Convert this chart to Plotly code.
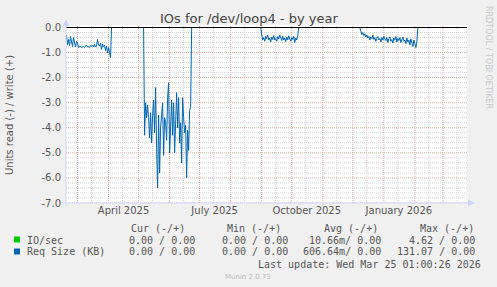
import plotly.graph_objects as go
import pandas as pd

# ---------------- data ----------------
start_day = "2025-02-18"
n_days = 401

# Req Size (KB), read side (drawn negative), daily values per active period
req_seg1_start = "2025-02-18"
req_seg1 = [-0.30, -0.68, -0.48, -0.72, -0.36, -0.60, -0.76, -0.40, -0.70, -0.78,
            -0.55, -0.62, -0.80, -0.78, -0.74, -0.80, -0.78, -0.76, -0.80, -0.74,
            -0.70, -0.78, -0.76, -0.80, -0.72, -0.76, -0.70, -0.78, -0.66, -0.78,
            -0.74, -0.48, -0.70, -0.74, -0.62, -0.88, -0.66, -0.76, -0.70, -0.92,
            -0.74, -1.02, -0.80, -1.00, -1.20]
req_seg2_start = "2025-05-07"
req_seg2 = [-4.3, -3.0, -3.6, -3.1, -3.6, -4.4, -3.4, -4.6, -3.5, -2.9,
            -4.2, -2.4, -4.8, -6.4, -3.5, -5.8, -4.0, -3.4, -3.0, -5.1,
            -3.6, -3.8, -4.5, -2.8, -2.2, -5.0, -3.5, -2.9, -4.3, -3.0,
            -5.0, -3.2, -2.6, -4.0, -2.8, -4.6, -3.8, -5.4, -2.8, -3.6,
            -4.2, -3.9, -6.0, -4.1, -4.9, -3.3, -3.2]
req_seg3_start = "2025-09-01"
req_seg3 = [-0.30, -0.50, -0.40, -0.55, -0.35, -0.45, -0.30, -0.50, -0.42, -0.58,
            -0.38, -0.48, -0.32, -0.50, -0.44, -0.55, -0.36, -0.46, -0.30, -0.40,
            -0.52, -0.34, -0.50, -0.42, -0.56, -0.38, -0.50, -0.33, -0.45, -0.55,
            -0.40, -0.48, -0.35, -0.60, -0.42, -0.50, -0.32]
req_seg4_start = "2025-12-09"
req_seg4 = [-0.15, -0.28, -0.20, -0.32, -0.25, -0.38, -0.30, -0.42, -0.35, -0.50,
            -0.38, -0.45, -0.30, -0.48, -0.40, -0.55, -0.42, -0.36, -0.50, -0.44,
            -0.58, -0.40, -0.50, -0.35, -0.46, -0.52, -0.40, -0.60, -0.45, -0.38,
            -0.55, -0.48, -0.62, -0.42, -0.50, -0.36, -0.58, -0.44, -0.52, -0.40,
            -0.60, -0.46, -0.38, -0.55, -0.50, -0.64, -0.42, -0.58, -0.50, -0.70,
            -0.45, -0.62, -0.76, -0.50, -0.66, -0.80, -0.55]

# IO/sec, read side (drawn negative): tiny level during active periods
io_level_seg2 = -0.03
io_level_seg3 = -0.03
io_level_seg4 = -0.03

y_tick_vals = [0, -1, -2, -3, -4, -5, -6, -7]
y_tick_text = ["0.0", "-1.0", "-2.0", "-3.0", "-4.0", "-5.0", "-6.0", "-7.0"]
x_label_dates = ["2025-04-16", "2025-07-16", "2025-10-16", "2026-01-16"]
x_label_text = ["April 2025", "July 2025", "October 2025", "January 2026"]

legend_header = ["Cur (-/+)", "Min (-/+)", "Avg (-/+)", "Max (-/+)"]
legend_names = ["IO/sec", "Req Size (KB)"]
legend_rows = [["0.00 / 0.00", "0.00 / 0.00", "10.66m/ 0.00", "4.62 / 0.00"],
               ["0.00 / 0.00", "0.00 / 0.00", "606.64m/ 0.00", "131.07 / 0.00"]]
last_update = "Last update: Wed Mar 25 01:00:26 2026"
title_text = "IOs for /dev/loop4 - by year"

# ---------------- build series ----------------
days = pd.date_range(start_day, periods=n_days, freq="D")
req = pd.Series(0.0, index=days)
io = pd.Series(0.0, index=days)
for s, vals in [(req_seg1_start, req_seg1), (req_seg2_start, req_seg2),
                (req_seg3_start, req_seg3), (req_seg4_start, req_seg4)]:
    idx = pd.date_range(s, periods=len(vals), freq="D")
    req.loc[idx] = vals
for s, vals, lvl in [(req_seg2_start, req_seg2, io_level_seg2),
                     (req_seg3_start, req_seg3, io_level_seg3),
                     (req_seg4_start, req_seg4, io_level_seg4)]:
    idx = pd.date_range(s, periods=len(vals), freq="D")
    io.loc[idx] = lvl

# ---------------- layout geometry ----------------
W, H = 497, 287
L, R, T, B = 66, 30, 25, 84
PW, PH = W - L - R, H - T - B


def px(xp):
    return (xp - L) / PW


def py(yp):
    return (H - B - yp) / PH


FONT = "DejaVu Sans, Verdana, sans-serif"
MONO = "DejaVu Sans Mono, monospace"
TXT = "#555555"

fig = go.Figure()
fig.add_trace(go.Scatter(x=days, y=io.values, mode="lines",
                         line=dict(color="#00CC00", width=1), name="IO/sec"))
fig.add_trace(go.Scatter(x=days, y=req.values, mode="lines",
                         line=dict(color="#0066B3", width=1), name="Req Size (KB)"))

shapes = []
# vertical grid: gray mid-month, red month starts
x0 = pd.Timestamp(start_day) - pd.Timedelta(hours=12)
x1 = pd.Timestamp(start_day) + pd.Timedelta(days=400, hours=1)
for m in pd.date_range("2025-02-01", "2026-03-31", freq="MS"):
    mid = m + pd.Timedelta(days=14)
    if x0 < mid < x1:
        shapes.append(dict(type="line", xref="x", yref="paper", x0=mid, x1=mid, y0=0, y1=1,
                           line=dict(color="#d4d4d4", width=1, dash="1px,1px"), layer="below"))
for m in pd.date_range("2025-02-01", "2026-03-31", freq="MS"):
    if x0 < m < x1:
        shapes.append(dict(type="line", xref="x", yref="paper", x0=m, x1=m, y0=0, y1=1,
                           line=dict(color="#e8a8a8", width=1, dash="1px,1px"), layer="below"))
# horizontal grid
for k in range(0, 36):
    v = -k * 0.2
    if k % 5 == 0:
        continue
    shapes.append(dict(type="line", xref="paper", yref="y", x0=0, x1=1, y0=v, y1=v,
                       line=dict(color="#d4d4d4", width=1, dash="1px,1px"), layer="below"))
for v in y_tick_vals:
    shapes.append(dict(type="line", xref="paper", yref="y", x0=0, x1=1, y0=v, y1=v,
                       line=dict(color="#e8a8a8", width=1, dash="1px,1px"), layer="below"))
# zero line
shapes.append(dict(type="line", xref="paper", yref="y", x0=0, x1=1, y0=0, y1=0,
                   line=dict(color="#000000", width=1), layer="above"))
# axes + arrows
AX = "#CFD6F8"
shapes.append(dict(type="line", xref="paper", yref="paper", x0=px(62), x1=px(470),
                   y0=py(203), y1=py(203), line=dict(color=AX, width=1), layer="above"))
shapes.append(dict(type="line", xref="paper", yref="paper", x0=px(66), x1=px(66),
                   y0=py(207), y1=py(24), line=dict(color=AX, width=1), layer="above"))
shapes.append(dict(type="path", xref="paper", yref="paper",
                   path=f"M {px(468)},{py(199.5)} L {px(475)},{py(203)} L {px(468)},{py(206.5)} Z",
                   fillcolor=AX, line=dict(color=AX, width=0), layer="above"))
shapes.append(dict(type="path", xref="paper", yref="paper",
                   path=f"M {px(62.5)},{py(26)} L {px(66)},{py(19)} L {px(69.5)},{py(26)} Z",
                   fillcolor=AX, line=dict(color=AX, width=0), layer="above"))
# legend squares
for (c, yc) in [("#00CC00", 239.5), ("#0066B3", 251.5)]:
    shapes.append(dict(type="rect", xref="paper", yref="paper",
                       x0=px(14), x1=px(20), y0=py(yc + 3), y1=py(yc - 3),
                       fillcolor=c, line=dict(width=0), layer="above"))

ann = []
ann.append(dict(text=title_text, x=px(249), y=py(19), xref="paper", yref="paper",
                showarrow=False, xanchor="center", yanchor="middle",
                font=dict(family=FONT, size=13, color="#444444")))
ann.append(dict(text="Units read (-) / write (+)", x=px(9), y=py(115), xref="paper",
                yref="paper", showarrow=False, textangle=-90, xanchor="center",
                yanchor="middle", font=dict(family=FONT, size=10, color=TXT)))
ann.append(dict(text="RRDTOOL / TOBI OETIKER", x=px(489), y=py(58), xref="paper",
                yref="paper", showarrow=False, textangle=90, xanchor="center",
                yanchor="middle", font=dict(family=FONT, size=8, color="#c8c8c8")))
header_right = [187, 283, 380, 476]
row_right = [197, 290, 383, 477]
for t, xr in zip(legend_header, header_right):
    ann.append(dict(text=t, x=px(xr), y=py(228), xref="paper", yref="paper",
                    showarrow=False, xanchor="right", yanchor="middle",
                    font=dict(family=MONO, size=10, color=TXT)))
for i, (name, row) in enumerate(zip(legend_names, legend_rows)):
    yy = 240 + 12 * i
    ann.append(dict(text=name, x=px(25), y=py(yy), xref="paper", yref="paper",
                    showarrow=False, xanchor="left", yanchor="middle",
                    font=dict(family=MONO, size=10, color=TXT)))
    for t, xr in zip(row, row_right):
        ann.append(dict(text=t, x=px(xr), y=py(yy), xref="paper", yref="paper",
                        showarrow=False, xanchor="right", yanchor="middle",
                        font=dict(family=MONO, size=10, color=TXT)))
ann.append(dict(text=last_update, x=px(483), y=py(264), xref="paper", yref="paper",
                showarrow=False, xanchor="right", yanchor="middle",
                font=dict(family=MONO, size=10, color=TXT)))
ann.append(dict(text="Munin 2.0.73", x=px(248), y=py(276.5), xref="paper", yref="paper",
                showarrow=False, xanchor="center", yanchor="middle",
                font=dict(family=FONT, size=7, color="#bbbbbb")))

fig.update_layout(
    width=W, height=H,
    margin=dict(l=L, r=R, t=T, b=B, pad=0),
    paper_bgcolor="#F0F0F0", plot_bgcolor="#FFFFFF",
    showlegend=False,
    shapes=shapes, annotations=ann,
    xaxis=dict(type="date", range=[x0, x1], tickmode="array",
               tickvals=x_label_dates, ticktext=x_label_text,
               showgrid=False, zeroline=False, showline=False, ticks="",
               tickfont=dict(family=FONT, size=10, color=TXT)),
    yaxis=dict(range=[-7, 0.1], tickmode="array", tickvals=y_tick_vals,
               ticktext=y_tick_text, showgrid=False, zeroline=False, showline=False,
               ticks="", ticklabelstandoff=4,
               tickfont=dict(family=FONT, size=10, color=TXT)),
)

fig.write_html("out.html")
